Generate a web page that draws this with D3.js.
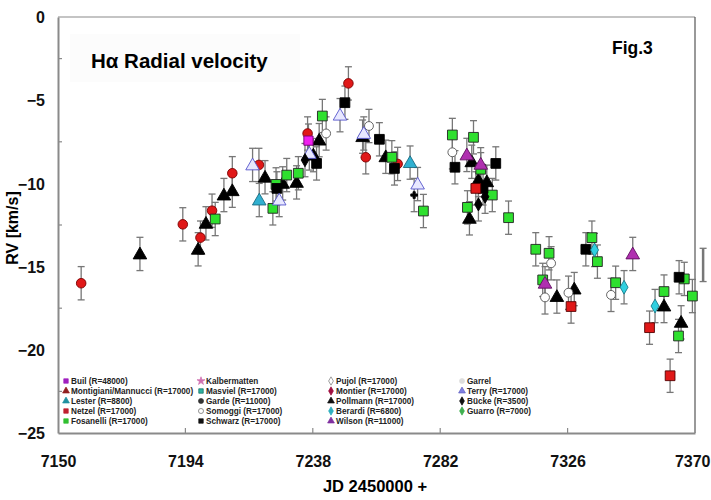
<!DOCTYPE html>
<html><head><meta charset="utf-8">
<script src="https://cdn.jsdelivr.net/npm/d3@7"></script>
<style>body{margin:0;background:#fff}svg{display:block;font-family:"Liberation Sans",Arial,sans-serif}</style>
</head><body><svg id="c" width="711" height="500"></svg>
<script>
// ---- data ----
const xTicks = [7150, 7194, 7238, 7282, 7326, 7370];
const yTicks = [0, -5, -10, -15, -20, -25];

const redCircJD = [7158, 7193.1, 7199.2, 7203.2, 7210.2, 7219.4, 7236.2, 7250.3, 7256.3, 7267.3];
const redCircRV = [-16.0, -12.46, -13.26, -11.64, -9.39, -8.89, -7.0, -3.99, -8.43, -8.83];

const pollmannJD = [7178.3, 7198.4, 7201.1, 7207.3, 7210.2, 7221.5, 7227.6, 7232.4, 7238.2, 7240.2, 7255.2, 7263.2, 7292.9, 7295.2, 7298.1, 7292.1, 7322.3, 7328.3, 7359.3, 7365.2];
const pollmannRV = [-14.24, -13.96, -12.4, -10.7, -10.44, -9.63, -10.0, -9.94, -8.3, -7.4, -7.19, -8.4, -8.7, -9.8, -9.9, -12.1, -16.8, -16.35, -17.37, -18.35];

const fosanelliJD = [7204.3, 7224.2, 7225.3, 7229, 7233, 7241.3, 7265.3, 7276.2, 7286.2, 7293.5, 7296, 7300, 7291.4, 7305.6, 7315, 7319.6, 7317.4, 7334.4, 7336.3, 7342.6, 7359.3, 7366.3, 7369.1, 7364.3];
const fosanelliRV = [-12.14, -11.5, -10.06, -9.5, -9.39, -5.95, -8.43, -11.66, -7.09, -7.23, -9.15, -10.7, -11.44, -12.06, -13.96, -14.2, -15.8, -13.26, -14.7, -15.97, -16.5, -15.74, -16.77, -19.17];

const schwarzJD = [7225.6, 7239.3, 7249.1, 7261, 7266.2, 7287.1, 7301.2, 7296.8, 7332.3, 7364.5];
const schwarzRV = [-10.3, -8.8, -5.15, -7.35, -9.1, -9.03, -8.8, -10.3, -13.96, -15.64];

const somoggiJD = [7242.6, 7257.4, 7286.2, 7320.3, 7318.2, 7326.3, 7341];
const somoggiRV = [-7.0, -6.55, -8.13, -14.8, -16.85, -16.57, -16.7];

const terryJD = [7217.2, 7226.4, 7236.8, 7247.4, 7255.6, 7274.2];
const terryRV = [-8.89, -11.0, -8.2, -5.9, -7.0, -10.04];

const lesterJD = [7219.5, 7271.6];
const lesterRV = [-11.0, -8.75];

const netzelJD = [7294.3, 7327.2, 7354.3, 7361.4];
const netzelRV = [-10.3, -17.4, -18.67, -21.56];

const wilsonJD = [7291.2, 7296, 7318.2, 7348.5];
const wilsonRV = [-8.29, -8.85, -16.0, -14.24];

const berardiJD = [7335.3, 7345.5, 7356.2];
const berardiRV = [-14.0, -16.24, -17.37];

const builJD = [7236.5];
const builRV = [-7.43];

const buckeJD = [7235.3, 7297.5, 7295.2];
const buckeRV = [-8.6, -10.8, -11.26];

const gardeJD = [7273];
const gardeRV = [-10.7];

const offJD = [7372.8];
const offRV = [-14.9];

const errBar = 1.0;

const legendCol1 = ["Buil (R=48000)", "Montigiani/Mannucci (R=17000)", "Lester (R=8800)", "Netzel (R=17000)", "Fosanelli (R=17000)"];
const legendCol2 = ["Kalbermatten", "Masviel (R=17000)", "Garde (R=11000)", "Somoggi (R=17000)", "Schwarz (R=17000)"];
const legendCol3 = ["Pujol (R=17000)", "Montier (R=17000)", "Pollmann (R=17000)", "Berardi (R=6800)", "Wilson (R=11000)"];
const legendCol4 = ["Garrel", "Terry (R=17000)", "Bücke (R=3500)", "Guarro (R=7000)"];

// ---- drawing ----
const svg = d3.select("#c");
const L = 58, R = 695, T = 17, B = 433;
const x = d3.scaleLinear().domain([7150, 7370]).range([L, R]);
const y = d3.scaleLinear().domain([0, -25]).range([T, B]);

// title box (very faint)
svg.append("rect").attr("x", 70).attr("y", 34).attr("width", 230).attr("height", 48).attr("fill", "#fcfcfc");

// frame
const gray = "#8a8a8a";
svg.append("line").attr("x1", L).attr("x2", R).attr("y1", T).attr("y2", T).attr("stroke", gray).attr("stroke-width", 1.2);
svg.append("line").attr("x1", R).attr("x2", R).attr("y1", T).attr("y2", B).attr("stroke", "#555").attr("stroke-width", 1.2);

// axes
const xAxis = d3.axisBottom(x).tickValues(xTicks).tickSize(0).tickPadding(0).tickFormat(d3.format("d"));
const gx = svg.append("g").attr("transform", `translate(0,${B})`).call(xAxis);
gx.select(".domain").attr("stroke", gray).attr("stroke-width", 2);
gx.selectAll("text").attr("y", 34).attr("dy", 0).attr("font-size", 16).attr("font-weight", "bold").attr("fill", "#111")
  .attr("text-anchor", d => d === 7370 ? "end" : "middle")
  .attr("x", d => d === 7370 ? 710 - x(d) : 0);
svg.append("g").selectAll("line").data(xTicks.slice(1, -1)).join("line")
  .attr("x1", d => x(d)).attr("x2", d => x(d)).attr("y1", B).attr("y2", B - 5).attr("stroke", gray).attr("stroke-width", 1.2);

const yAxis = d3.axisLeft(y).tickValues(yTicks).tickSize(0).tickPadding(0).tickFormat(d3.format("d"));
const gy = svg.append("g").attr("transform", `translate(${L},0)`).call(yAxis);
gy.select(".domain").attr("stroke", gray).attr("stroke-width", 2);
gy.selectAll("text").attr("x", -13).attr("dy", "0.35em").attr("font-size", 16).attr("font-weight", "bold").attr("fill", "#111");
svg.append("g").selectAll("line").data(d3.range(-2.5, -25, -5)).join("line")
  .attr("x1", L).attr("x2", L + 4).attr("y1", d => y(d)).attr("y2", d => y(d)).attr("stroke", gray).attr("stroke-width", 1.2);

// axis titles
svg.append("text").attr("x", 375).attr("y", 492).attr("text-anchor", "middle").attr("font-size", 16.5).attr("font-weight", "bold").text("JD 2450000 +");
svg.append("text").attr("transform", "translate(18,228) rotate(-90)").attr("text-anchor", "middle").attr("font-size", 16).attr("font-weight", "bold").text("RV [km/s]");

svg.append("text").attr("x", 91).attr("y", 68).attr("font-size", 20.5).attr("font-weight", "bold").text("Hα Radial velocity");
svg.append("text").attr("x", 612).attr("y", 54).attr("font-size", 17.5).attr("font-weight", "bold").text("Fig.3");

// series definitions
const zip = (a, b) => a.map((v, i) => ({ jd: v, rv: b[i] }));
const series = [
  { pts: zip(offJD, offRV), shape: null },
  { pts: zip(redCircJD, redCircRV), shape: d3.symbolCircle, size: 72, fill: "#e01818", stroke: "#7a0000" },
  { pts: zip(pollmannJD, pollmannRV), shape: d3.symbolTriangle, size: 80, fill: "#000", stroke: "#000" },
  { pts: zip(fosanelliJD, fosanelliRV), shape: d3.symbolSquare, size: 95, fill: "#2ee02e", stroke: "#222" },
  { pts: zip(schwarzJD, schwarzRV), shape: d3.symbolSquare, size: 95, fill: "#000", stroke: "#000" },
  { pts: zip(somoggiJD, somoggiRV), shape: d3.symbolCircle, size: 62, fill: "#fff", stroke: "#555" },
  { pts: zip(terryJD, terryRV), shape: d3.symbolTriangle, size: 80, fill: "#e8e8ff", stroke: "#5555cc" },
  { pts: zip(lesterJD, lesterRV), shape: d3.symbolTriangle, size: 80, fill: "#30b0d0", stroke: "#1a6a80" },
  { pts: zip(netzelJD, netzelRV), shape: d3.symbolSquare, size: 95, fill: "#e01818", stroke: "#550000" },
  { pts: zip(wilsonJD, wilsonRV), shape: d3.symbolTriangle, size: 80, fill: "#b030b0", stroke: "#601060" },
  { pts: zip(berardiJD, berardiRV), shape: d3.symbolDiamond, size: 55, fill: "#30d0e0", stroke: "#1a7a8a" },
  { pts: zip(builJD, builRV), shape: d3.symbolSquare, size: 85, fill: "#f020f0", stroke: "#700070" },
  { pts: zip(buckeJD, buckeRV), shape: d3.symbolDiamond, size: 50, fill: "#000", stroke: "#000" },
  { pts: zip(gardeJD, gardeRV), shape: d3.symbolCross, size: 25, fill: "#000", stroke: "#000" },
];

// error bars
const eg = svg.append("g").attr("stroke", "#777").attr("stroke-width", 1.3);
series.forEach(s => {
  s.pts.forEach(p => {
    const x0 = x(p.jd), y1 = y(p.rv + errBar), y2 = y(p.rv - errBar);
    eg.append("line").attr("x1", x0).attr("x2", x0).attr("y1", y1).attr("y2", y2).attr("stroke-width", s.shape ? 1.3 : 2.5);
    eg.append("line").attr("x1", x0 - 3.5).attr("x2", x0 + 3.5).attr("y1", y1).attr("y2", y1);
    eg.append("line").attr("x1", x0 - 3.5).attr("x2", x0 + 3.5).attr("y1", y2).attr("y2", y2);
  });
});
// markers
series.filter(s => s.shape).forEach(s => {
  svg.append("g").selectAll("path").data(s.pts).join("path")
    .attr("d", d3.symbol().type(s.shape).size(s.size))
    .attr("transform", d => `translate(${x(d.jd)},${y(d.rv) + (s.shape === d3.symbolTriangle ? 1 : 0)})`)
    .attr("fill", s.fill).attr("stroke", s.stroke).attr("stroke-width", 0.9);
});

// legend
const legMarkers = [
  [[d3.symbolSquare, "#a020c0", "#a020c0"], [d3.symbolTriangle, "#902020", "#902020"], [d3.symbolTriangle, "#2090a0", "#2090a0"], [d3.symbolSquare, "#c02030", "#c02030"], [d3.symbolSquare, "#30c030", "#30c030"]],
  [[d3.symbolStar, "#d070b0", "#d070b0"], [d3.symbolSquare, "#30b0a0", "#107060"], [d3.symbolCircle, "#333", "#333"], [d3.symbolCircle, "#fff", "#666"], [d3.symbolSquare, "#111", "#111"]],
  [[d3.symbolDiamond, "#fff", "#777"], [d3.symbolDiamond, "#a01040", "#a01040"], [d3.symbolTriangle, "#111", "#111"], [d3.symbolDiamond, "#30b0c0", "#30b0c0"], [d3.symbolTriangle, "#8030a0", "#8030a0"]],
  [[d3.symbolCircle, "#ddd", "#ddd"], [d3.symbolTriangle, "#8080e0", "#6060c0"], [d3.symbolDiamond, "#111", "#111"], [d3.symbolDiamond, "#40b050", "#40b050"]],
];
const legCols = [legendCol1, legendCol2, legendCol3, legendCol4];
const legX = [66, 201, 331, 462];
const lg = svg.append("g");
legCols.forEach((col, ci) => {
  col.forEach((label, ri) => {
    const yy = 381 + ri * 10;
    const m = legMarkers[ci][ri];
    lg.append("path").attr("d", d3.symbol().type(m[0]).size(20)).attr("transform", `translate(${legX[ci]},${yy})`).attr("fill", m[1]).attr("stroke", m[2]).attr("stroke-width", 0.7);
    lg.append("text").attr("x", legX[ci] + 5).attr("y", yy + 3).attr("font-size", 8.2).attr("font-weight", "bold").attr("fill", "#222").text(label);
  });
});
</script></body></html>
